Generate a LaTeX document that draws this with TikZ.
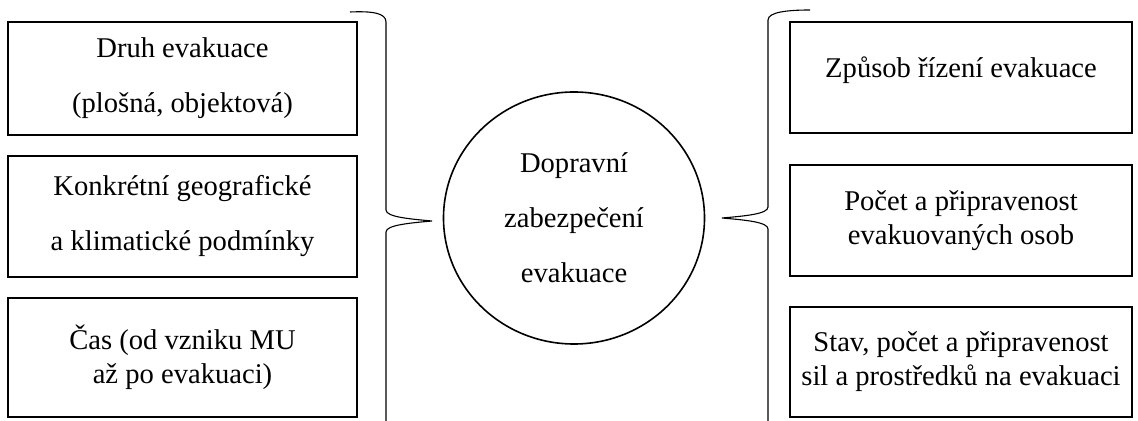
\documentclass[tikz,border=0pt]{standalone}
\usepackage{fontspec}
\setmainfont{Liberation Serif}
\newfontfamily\tnr{Liberation Serif}
\usetikzlibrary{shapes.geometric}
\begin{document}
\begin{tikzpicture}[x=0.5pt,y=-0.5pt,
  box/.style={draw, line width=1pt, inner sep=0pt, align=center,
    font=\tnr\fontsize{14.3}{17}\selectfont},
  lbox/.style={box, minimum width=174.5pt},
  rbox/.style={box, minimum width=171pt},
  wide/.style={font=\tnr\fontsize{14.3}{27.5}\selectfont},
  brace/.style={line width=0.55pt}]
\useasboundingbox (0,0) rectangle (1138,421);
% left boxes
\node[lbox, wide, minimum height=56.5pt] (l1) at (182.5,78.5) {Druh evakuace\\(plošná, objektová)};
\node[lbox, wide, minimum height=60.5pt] (l2) at (182.5,216.5) {Konkrétní geografické\\a klimatické podmínky};
\node[lbox, minimum height=59.5pt] (l3) at (182.5,357.5) {Čas (od vzniku MU\\až po evakuaci)};
% right boxes
\node[rbox, minimum height=55.5pt] (r1) at (961,77.5) {};
\node[font=\tnr\fontsize{14.3}{17}\selectfont] (r1t) at (961,70) {Způsob řízení evakuace};
\node[rbox, minimum height=55.5pt] (r2) at (961,220.5) {Počet a připravenost\\evakuovaných osob};
\node[rbox, minimum height=55pt] (r3) at (961,362) {Stav, počet a připravenost\\sil a prostředků na evakuaci};
% centre
\node[draw, ellipse, line width=0.8pt, inner sep=0pt, minimum width=130.5pt, minimum height=126pt,
  align=center, font=\tnr\fontsize{14.3}{27.5}\selectfont] (c) at (574,218)
  {Dopravní\\zabezpečení\\evakuace};
% left brace
\coordinate (lbs) at (350,12);
\coordinate (lbt) at (432,221);
\coordinate (lbe) at (386,421);
\draw[brace] (lbs) .. controls (372,11) and (386,13) .. (386,22) -- (386,210)
  .. controls (386,217) and (410,219) .. (lbt)
  .. controls (410,223) and (386,225) .. (386,232) -- (lbe);
% right brace
\coordinate (rbs) at (810,10);
\coordinate (rbt) at (722,218);
\coordinate (rbe) at (768,421);
\draw[brace] (rbs) .. controls (788,10) and (768,12) .. (768,20) -- (768,207)
  .. controls (768,214) and (745,216) .. (rbt)
  .. controls (745,220) and (768,222) .. (768,229) -- (rbe);
\end{tikzpicture}
\end{document}
